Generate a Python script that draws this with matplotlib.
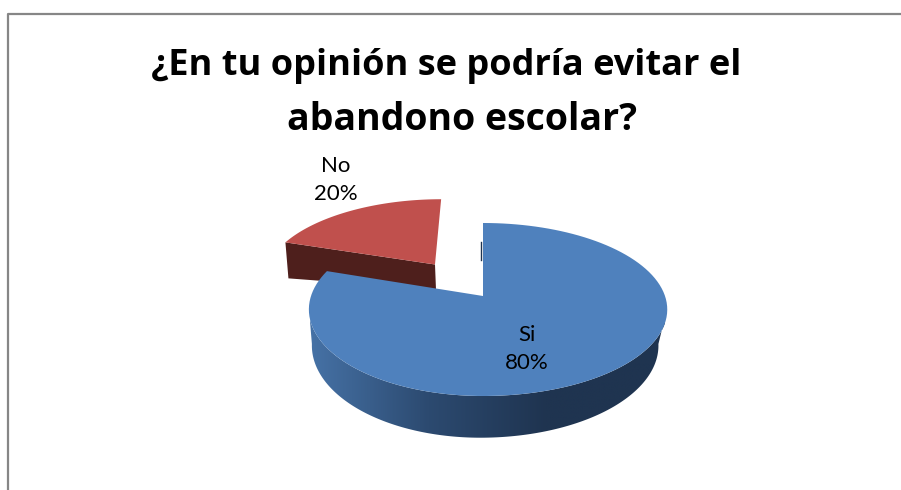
import matplotlib
matplotlib.use("Agg")
import matplotlib.pyplot as plt
from matplotlib.patches import Polygon
from matplotlib.colors import LinearSegmentedColormap
import numpy as np

categories = ["Si", "No"]
values = [80, 20]
title_lines = ["¿En tu opinión se podría evitar el", "abandono escolar?"]

plt.rcParams["font.family"] = ["Open Sans", "DejaVu Sans"]

# the pie is tilted, so a point on the unit circle goes through a small perspective
cx, cy = 483, 296
rx_left, rx_right, ry = 172, 182, 84.4
k = 0.156
depth = 35.2
bottom_shrink = 0.967


def project(u, v, left=rx_left):
    u = np.asarray(u, dtype=float)
    v = np.asarray(v, dtype=float)
    rx = np.where(u < 0, left, rx_right)
    return cx + rx * u / (1 + k * v), cy - ry * v / (1 + k * v)


def wedge(start, stop, off_u=0.0, off_v=0.0, left=rx_left, n=120):
    # angles run clockwise from the top of the pie
    t = np.radians(np.linspace(start, stop, n))
    u = np.concatenate([[off_u], np.sin(t) + off_u])
    v = np.concatenate([[off_v], np.cos(t) + off_v])
    return project(u, v, left)


fig = plt.figure(figsize=(9.01, 4.9), dpi=100)
ax = fig.add_axes([0, 0, 1, 1])

# chart frame, cut by the picture on the right and at the bottom
ax.plot([8, 8, 901], [490, 14, 14], color="#868686", lw=1.6)

sweep = 360 * values[0] / sum(values)

# exploded slice
mid = np.radians((sweep + 360) / 2)
off_u, off_v = 0.49 * np.sin(mid), 0.49 * np.cos(mid)
red_x, red_y = wedge(sweep, 360, off_u, off_v, left=177)
ax.fill([red_x[1], red_x[0], red_x[0] + 1, red_x[1] + 3],
        [red_y[1], red_y[0], red_y[0] + 25, red_y[1] + 36], color="#4e1f1c", lw=0)
ax.add_patch(Polygon(np.column_stack([red_x, red_y]), color="#c0504d", lw=0))

# side of the big slice, shaded from left to right
t = np.radians(np.linspace(262, 98, 240))
us, vs = np.sin(t), np.cos(t)
top_x, top_y = project(us, vs)
low_x = 400 + (top_x - 400) * bottom_shrink
low_y = top_y + depth / (1 + k * vs)
side = Polygon(np.column_stack([np.concatenate([top_x, low_x[::-1]]),
                                np.concatenate([top_y, low_y[::-1]])]),
               transform=ax.transData, fc="none", ec="none")
ax.add_patch(side)
side_cmap = LinearSegmentedColormap.from_list("side", ["#4672a6", "#2c4a70", "#1f3450", "#1f3450"])
shade = ax.imshow(np.linspace(0, 1, 256).reshape(1, -1), cmap=side_cmap, aspect="auto",
                  extent=[310, 665, 440, 290])
shade.set_clip_path(side)

# cut face seen behind the first edge
ax.plot([cx - 2, cx - 2], [cy - 54, cy - 36], color="#1f3450", lw=1)

blue_x, blue_y = wedge(0, sweep)
ax.add_patch(Polygon(np.column_stack([blue_x, blue_y]), color="#4f81bd", lw=0))

for line, x, y, size in zip(title_lines, [446, 462], [75, 130], [26, 27]):
    ax.text(x, y, line, ha="center", va="baseline", fontsize=size, fontweight="bold", color="black")

ax.text(527, 349, f"{categories[0]}\n{values[0]}%", ha="center", va="center",
        fontsize=16, color="black", linespacing=1.55, family=["Lato", "DejaVu Sans"])
ax.text(336, 180, f"{categories[1]}\n{values[1]}%", ha="center", va="center",
        fontsize=16, color="black", linespacing=1.55, family=["Lato", "DejaVu Sans"])

ax.set_xlim(0, 901)
ax.set_ylim(490, 0)
ax.axis("off")

fig.savefig("out.png", dpi=100)
